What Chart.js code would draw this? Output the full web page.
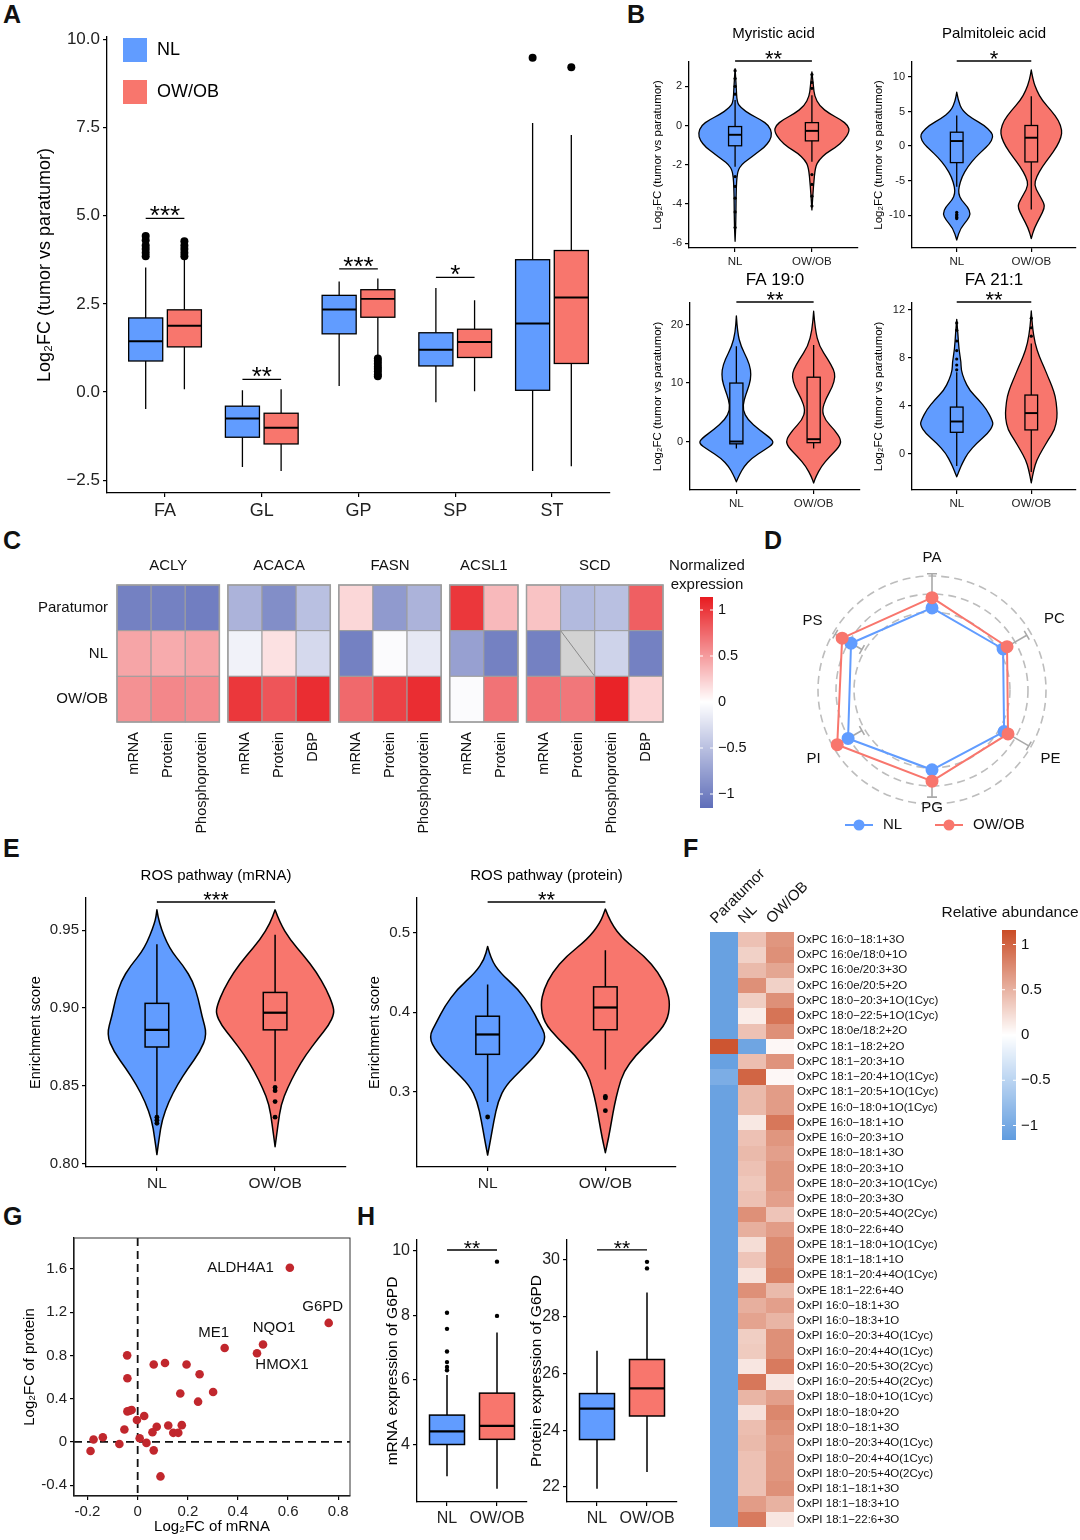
<!DOCTYPE html>
<html>
<head>
<meta charset="utf-8">
<title>Lipid metabolism figure</title>
<script src="https://cdn.jsdelivr.net/npm/chart.js@4.4.1/dist/chart.umd.min.js"></script>
<style>
  body { margin: 0; background: #fff; }
  #page { position: relative; width: 1080px; height: 1540px; overflow: hidden; background: #fff; }
  #page canvas { position: absolute; }
  .tag { position: absolute; font: bold 25px "Liberation Sans", Arial, sans-serif; line-height: 1; color: #111; }
</style>
</head>
<body>
<div id="page">
  <div class="tag" style="left:3px;top:2px">A</div>
  <div class="tag" style="left:627px;top:2px">B</div>
  <div class="tag" style="left:3px;top:528px">C</div>
  <div class="tag" style="left:764px;top:528px">D</div>
  <div class="tag" style="left:3px;top:836px">E</div>
  <div class="tag" style="left:683px;top:836px">F</div>
  <div class="tag" style="left:3px;top:1204px">G</div>
  <div class="tag" style="left:357px;top:1204px">H</div>
</div>
<script>
const FONT = '"Liberation Sans", Arial, Helvetica, sans-serif';
Chart.defaults.font.family = FONT;
Chart.defaults.color = '#222';
Chart.defaults.animation = false;
Chart.defaults.responsive = false;
Chart.defaults.plugins.legend.display = false;
Chart.defaults.plugins.tooltip.enabled = false;

const BLUE = '#619CFF';
const RED = '#F8766D';
const MINUS = '\u2212';

// ---------- A: lipid classes, log2FC tumor vs paratumor ----------
const classCats = ['FA', 'GL', 'GP', 'SP', 'ST'];
const classTicks = [-2.5, 0, 2.5, 5, 7.5, 10];
// [lower whisker, Q1, median, Q3, upper whisker]
const classNL = [[-0.48, 0.88, 1.44, 2.10, 3.53], [-2.12, -1.28, -0.75, -0.40, 0.05], [0.17, 1.65, 2.34, 2.74, 3.13], [-0.29, 0.74, 1.20, 1.68, 2.95], [-2.24, 0.05, 1.94, 3.75, 7.62]];
const classOW = [[0.08, 1.28, 1.88, 2.33, 3.78], [-2.24, -1.47, -1.01, -0.60, 0.08], [1.0, 2.12, 2.64, 2.90, 3.22], [0.02, 0.98, 1.42, 1.78, 2.60], [-2.10, 0.81, 2.68, 4.01, 7.28]];
const classOutNL = [[3.85, 3.95, 4.05, 4.15, 4.3, 4.42], [], [], [], [9.47]];
const classOutOW = [[3.85, 3.95, 4.05, 4.15, 4.27], [], [0.95, 0.88, 0.8, 0.72, 0.65, 0.58, 0.5, 0.45], [], [9.2]];
const classSig = ['***', '**', '***', '*'];
const classSigY = [4.92, 0.36, 3.49, 3.25];

// ---------- B: fatty acids (violin profiles: [value, relative half width]) ----------
const groups = ['NL', 'OW/OB'];

const myrTicks = [-6, -4, -2, 0, 2];
const myrViolinNL = [[2.9, 0], [2.0, 0.03], [1.2, 0.05], [0.9, 0.15], [0.55, 0.42], [0.3, 0.68], [0, 0.9], [-0.4, 0.98], [-0.75, 0.93], [-1.1, 0.78], [-1.4, 0.58], [-1.75, 0.33], [-2.0, 0.17], [-2.3, 0.07], [-3, 0.03], [-5, 0.02], [-5.9, 0]];
const myrViolinOW = [[2.74, 0], [2.0, 0.04], [1.5, 0.07], [1.0, 0.2], [0.6, 0.47], [0.3, 0.77], [0, 0.96], [-0.3, 1.0], [-0.75, 0.85], [-1.1, 0.64], [-1.4, 0.38], [-1.75, 0.19], [-2.1, 0.09], [-3.1, 0.04], [-4.3, 0]];
const myrBoxNL = [-2.1, -1.03, -0.47, -0.05, 1.3];
const myrBoxOW = [-1.85, -0.78, -0.27, 0.15, 1.55];
const myrOutNL = [2.8, 2.4, 2.0, 1.6, -2.6, -3.1, -3.7, -4.4, -5.2];
const myrOutOW = [2.6, 2.2, 1.9, -2.5, -3.0, -3.6, -4.1];

const palTicks = [-10, -5, 0, 5, 10];
const palViolinNL = [[7.8, 0], [6.6, 0.04], [5.1, 0.15], [3.9, 0.45], [3.0, 0.75], [2.0, 0.95], [1.3, 1.0], [0.3, 0.9], [-0.6, 0.72], [-1.6, 0.52], [-3.0, 0.3], [-4.5, 0.14], [-5.9, 0.06], [-6.9, 0.05], [-7.8, 0.12], [-8.8, 0.3], [-9.8, 0.38], [-10.7, 0.3], [-11.9, 0.1], [-13.6, 0]];
const palViolinOW = [[11.0, 0], [9.5, 0.05], [8.0, 0.15], [6.6, 0.3], [5.1, 0.55], [3.7, 0.75], [2.3, 0.84], [1.3, 0.82], [-0.1, 0.7], [-1.6, 0.5], [-3.0, 0.3], [-4.5, 0.14], [-5.7, 0.08], [-6.9, 0.2], [-8.3, 0.35], [-9.0, 0.36], [-10.2, 0.25], [-11.9, 0.08], [-13.4, 0]];
const palBoxNL = [-5.9, -2.4, 0.72, 2.0, 4.4];
const palBoxOW = [-9.2, -2.3, 1.2, 2.97, 7.2];
const palOutNL = [-9.6, -9.9, -10.1, -10.3, -10.5];
const palOutOW = [];

const fa19Ticks = [0, 10, 20];
const fa19ViolinNL = [[21.5, 0], [18.6, 0.03], [16.3, 0.12], [14, 0.3], [12.3, 0.38], [10.6, 0.38], [8.9, 0.3], [7.1, 0.2], [5.4, 0.17], [3.7, 0.3], [2.0, 0.6], [0.6, 0.9], [-0.3, 1.0], [-1.4, 0.75], [-2.9, 0.4], [-4.3, 0.2], [-5.7, 0.08], [-6.9, 0]];
const fa19ViolinOW = [[22.3, 0], [19.1, 0.04], [16.3, 0.15], [14, 0.38], [12.3, 0.53], [11.1, 0.57], [9.4, 0.5], [7.4, 0.33], [5.4, 0.22], [3.7, 0.3], [2.0, 0.55], [0.3, 0.73], [-0.9, 0.68], [-2.6, 0.42], [-4.3, 0.2], [-6.0, 0.06], [-7.1, 0]];
const fa19BoxNL = [-1.2, -0.4, 0, 10, 16.3];
const fa19BoxOW = [-1.2, -0.2, 0.4, 11.0, 16.5];

const fa21Ticks = [0, 4, 8, 12];
const fa21ViolinNL = [[11.2, 0], [10.1, 0.03], [8.7, 0.06], [7.6, 0.12], [7.0, 0.12], [6.2, 0.2], [5.3, 0.35], [4.5, 0.6], [3.7, 0.82], [2.8, 0.97], [2.4, 1.0], [1.7, 0.85], [0.9, 0.55], [0.06, 0.3], [-0.8, 0.15], [-1.3, 0.08], [-1.9, 0]];
const fa21ViolinOW = [[11.9, 0], [10.6, 0.03], [9.2, 0.1], [8.1, 0.22], [7.3, 0.34], [6.4, 0.46], [5.6, 0.57], [4.8, 0.66], [3.8, 0.7], [3.0, 0.71], [2.0, 0.64], [1.2, 0.47], [0.33, 0.3], [-0.5, 0.15], [-1.3, 0.07], [-2.4, 0]];
const fa21BoxNL = [-1.0, 1.8, 2.7, 3.9, 6.8];
const fa21BoxOW = [-1.5, 2.0, 3.4, 4.9, 9.2];
const fa21OutNL = [7.0, 7.4, 7.9, 8.6, 9.4, 10.3, 10.9];
const fa21OutOW = [9.8, 10.5, 11.3];

// ---------- C: lipogenic enzymes ----------
const enzymes = ['ACLY', 'ACACA', 'FASN', 'ACSL1', 'SCD'];
const enzymeCols = [['mRNA', 'Protein', 'Phosphoprotein'], ['mRNA', 'Protein', 'DBP'], ['mRNA', 'Protein', 'Phosphoprotein'], ['mRNA', 'Protein'], ['mRNA', 'Protein', 'Phosphoprotein', 'DBP']];
const enzymeRows = ['Paratumor', 'NL', 'OW/OB'];
const aclyExpr = [[-1.0, -1.0, -1.02], [0.45, 0.42, 0.45], [0.55, 0.6, 0.58]];
const acacaExpr = [[-0.6, -0.9, -0.5], [-0.1, 0.15, -0.3], [1.0, 0.85, 1.05]];
const fasnExpr = [[0.2, -0.8, -0.6], [-1.0, -0.03, -0.18], [0.75, 0.95, 1.05]];
const acsl1Expr = [[1.0, 0.35], [-0.75, -1.0], [-0.03, 0.7]];
const scdExpr = [[0.3, -0.55, -0.5, 0.8], [-1.0, null, -0.35, -1.0], [0.7, 0.68, 1.1, 0.22]];
const exprTicks = [1, 0.5, 0, -0.5, -1];

// ---------- D: lipid class radar ----------
const lipidClasses = ['PA', 'PC', 'PE', 'PG', 'PI', 'PS'];
const radarNL = [0.72, 0.72, 0.73, 0.70, 0.85, 0.82];
const radarOW = [0.81, 0.76, 0.77, 0.80, 0.96, 0.91];
const radarErrLo = [0.81, 0.76, 0.77, 0.80, 0.71, 0.71];
const radarErrHi = [1.02, 0.96, 0.98, 0.94, 0.96, 0.98];
const radarRings = [0.684, 0.842, 1.0];

// ---------- E: ROS pathway enrichment ----------
const rosMrnaTicks = [0.80, 0.85, 0.90, 0.95];
const rosMrnaViolinNL = [[0.963, 0], [0.955, 0.03], [0.938, 0.21], [0.927, 0.45], [0.917, 0.61], [0.906, 0.70], [0.895, 0.76], [0.883, 0.85], [0.872, 0.73], [0.861, 0.52], [0.851, 0.35], [0.840, 0.20], [0.828, 0.085], [0.817, 0.04], [0.806, 0]];
const rosMrnaViolinOW = [[0.963, 0], [0.9547, 0.08], [0.944, 0.25], [0.9335, 0.49], [0.923, 0.7], [0.912, 0.87], [0.9017, 0.98], [0.8964, 1], [0.889, 0.91], [0.8805, 0.73], [0.870, 0.52], [0.8593, 0.35], [0.8487, 0.21], [0.838, 0.1], [0.8254, 0.05], [0.811, 0]];
const rosMrnaBoxNL = [0.831, 0.875, 0.886, 0.903, 0.941];
const rosMrnaBoxOW = [0.853, 0.886, 0.897, 0.910, 0.947];
const rosMrnaOutNL = [0.830, 0.828, 0.826];
const rosMrnaOutOW = [0.849, 0.847, 0.840, 0.830];

const rosProtTicks = [0.3, 0.4, 0.5];
const rosProtViolinNL = [[0.483, 0], [0.467, 0.05], [0.45, 0.19], [0.429, 0.47], [0.408, 0.66], [0.3875, 0.79], [0.369, 0.91], [0.35, 0.79], [0.329, 0.54], [0.308, 0.28], [0.2875, 0.16], [0.2625, 0.095], [0.2417, 0.05], [0.22, 0]];
const rosProtViolinOW = [[0.53, 0], [0.5125, 0.08], [0.4917, 0.28], [0.471, 0.6], [0.45, 0.82], [0.429, 0.95], [0.41, 1], [0.3875, 0.95], [0.3667, 0.73], [0.346, 0.47], [0.325, 0.28], [0.304, 0.2], [0.283, 0.14], [0.2625, 0.095], [0.242, 0.05], [0.223, 0]];
const rosProtBoxNL = [0.287, 0.347, 0.372, 0.395, 0.435];
const rosProtBoxOW = [0.328, 0.378, 0.406, 0.432, 0.478];
const rosProtOutNL = [0.268];
const rosProtOutOW = [0.294, 0.292, 0.276];

// ---------- F: oxidized phospholipids ----------
const oxGroups = ['Paratumor', 'NL', 'OW/OB'];
const oxLipids = [
  'OxPC 16:0−18:1+3O', 'OxPC 16:0e/18:0+1O', 'OxPC 16:0e/20:3+3O', 'OxPC 16:0e/20:5+2O',
  'OxPC 18:0−20:3+1O(1Cyc)', 'OxPC 18:0−22:5+1O(1Cyc)', 'OxPC 18:0e/18:2+2O', 'OxPC 18:1−18:2+2O',
  'OxPC 18:1−20:3+1O', 'OxPC 18:1−20:4+1O(1Cyc)', 'OxPC 18:1−20:5+1O(1Cyc)', 'OxPE 16:0−18:0+1O(1Cyc)',
  'OxPE 16:0−18:1+1O', 'OxPE 16:0−20:3+1O', 'OxPE 18:0−18:1+3O', 'OxPE 18:0−20:3+1O',
  'OxPE 18:0−20:3+1O(1Cyc)', 'OxPE 18:0−20:3+3O', 'OxPE 18:0−20:5+4O(2Cyc)', 'OxPE 18:0−22:6+4O',
  'OxPE 18:1−18:0+1O(1Cyc)', 'OxPE 18:1−18:1+1O', 'OxPE 18:1−20:4+4O(1Cyc)', 'OxPE 18:1−22:6+4O',
  'OxPI 16:0−18:1+3O', 'OxPI 16:0−18:3+1O', 'OxPI 16:0−20:3+4O(1Cyc)', 'OxPI 16:0−20:4+4O(1Cyc)',
  'OxPI 16:0−20:5+3O(2Cyc)', 'OxPI 16:0−20:5+4O(2Cyc)', 'OxPI 18:0−18:0+1O(1Cyc)', 'OxPI 18:0−18:0+2O',
  'OxPI 18:0−18:1+3O', 'OxPI 18:0−20:3+4O(1Cyc)', 'OxPI 18:0−20:4+4O(1Cyc)', 'OxPI 18:0−20:5+4O(2Cyc)',
  'OxPI 18:1−18:1+3O', 'OxPI 18:1−18:3+1O', 'OxPI 18:1−22:6+3O'
];
const oxPara = [-1.1, -1.1, -1.1, -1.1, -1.1, -1.1, -1.1, 1.1, -1.1, -0.95, -1.08, -1.1, -1.1, -1.1, -1.1, -1.1, -1.1, -1.1, -1.1, -1.1, -1.1, -1.1, -1.1, -1.1, -1.1, -1.1, -1.1, -1.1, -1.1, -1.1, -1.1, -1.1, -1.1, -1.1, -1.1, -1.1, -1.1, -1.1, -1.1];
const oxNL = [0.4, 0.3, 0.45, 0.72, 0.32, 0.12, 0.4, -1.05, 0.42, 1.0, 0.45, 0.45, 0.15, 0.4, 0.45, 0.4, 0.36, 0.4, 0.72, 0.52, 0.22, 0.38, 0.18, 0.72, 0.52, 0.6, 0.32, 0.34, 0.16, 0.88, 0.48, 0.2, 0.42, 0.45, 0.4, 0.4, 0.4, 0.64, 0.86];
const oxOW = [0.68, 0.72, 0.58, 0.3, 0.72, 0.9, 0.72, 0.05, 0.7, 0.05, 0.64, 0.64, 0.88, 0.68, 0.62, 0.68, 0.68, 0.62, 0.38, 0.64, 0.76, 0.76, 0.82, 0.45, 0.62, 0.48, 0.72, 0.72, 0.86, 0.16, 0.62, 0.78, 0.72, 0.66, 0.68, 0.68, 0.72, 0.5, 0.16];
const oxTicks = [1, 0.5, 0, -0.5, -1];

// ---------- G: mRNA vs protein log2FC ----------
const fcPoints = [[0.607, 1.61], [0.762, 1.10], [0.347, 0.868], [0.50, 0.90], [0.476, 0.82],
  [-0.042, 0.80], [0.064, 0.716], [0.109, 0.729], [0.195, 0.716], [0.247, 0.626],
  [-0.041, 0.589], [0.301, 0.462], [0.170, 0.447], [0.241, 0.372], [-0.041, 0.282],
  [-0.024, 0.295], [-0.032, 0.288], [0.026, 0.239], [-0.003, 0.202], [-0.053, 0.115],
  [0.076, 0.140], [0.122, 0.152], [0.176, 0.155], [0.142, 0.084], [0.162, 0.084],
  [0.059, 0.09], [0.008, 0.034], [-0.139, 0.043], [-0.176, 0.022], [-0.073, -0.019],
  [0.035, -0.009], [-0.188, -0.084], [0.064, -0.078], [0.091, -0.319]];
const fcGenes = ['ALDH4A1', 'G6PD', 'ME1', 'NQO1', 'HMOX1'];
const fcXTicks = [-0.2, 0, 0.2, 0.4, 0.6, 0.8];
const fcYTicks = [-0.4, 0, 0.4, 0.8, 1.2, 1.6];

// ---------- H: G6PD expression ----------
const g6pdMrnaTicks = [4, 6, 8, 10];
const g6pdMrnaBoxNL = [3.02, 4.0, 4.41, 4.91, 6.15];
const g6pdMrnaBoxOW = [2.63, 4.16, 4.58, 5.59, 7.47];
const g6pdMrnaOutNL = [6.3, 6.4, 6.55, 6.88, 7.58, 8.08];
const g6pdMrnaOutOW = [7.98, 9.66];
const g6pdProtTicks = [22, 24, 26, 28, 30];
const g6pdProtBoxNL = [21.94, 23.67, 24.76, 25.29, 26.8];
const g6pdProtBoxOW = [22.53, 24.5, 25.47, 26.49, 28.85];
const g6pdProtOutNL = [];
const g6pdProtOutOW = [29.7, 29.93];

// ================= helpers =================
function addCanvas(b) {
  const c = document.createElement('canvas');
  c.width = b[2];
  c.height = b[3];
  c.style.left = b[0] + 'px';
  c.style.top = b[1] + 'px';
  c.style.width = b[2] + 'px';
  c.style.height = b[3] + 'px';
  document.getElementById('page').appendChild(c);
  return c;
}

// canvas box [x, y, w, h] and plot area [left, top, right, bottom] in page pixels
function frame(b, a) {
  return {
    padding: { left: 0, top: a[1] - b[1], right: b[0] + b[2] - a[2], bottom: 0 },
    yw: a[0] - b[0],
    xh: b[1] + b[3] - a[3]
  };
}

function axis(min, max, ticks, fmt, size, font, title) {
  return {
    type: 'linear', min, max, offset: false,
    afterBuildTicks: s => { s.ticks = ticks.map(v => ({ value: v })); },
    afterFit: s => { if (s.isHorizontal()) s.height = size; else s.width = size; },
    ticks: { callback: fmt, font: { size: font }, color: '#222', padding: 3, maxRotation: 0, minRotation: 0, autoSkip: false },
    grid: { drawOnChartArea: false, color: '#000', tickLength: 4, lineWidth: 1.2 },
    border: { color: '#000', width: 1.3 },
    title: title || { display: false }
  };
}

function axisTitle(text, size, pad) {
  return { display: true, text, color: '#000', font: { size }, padding: { top: pad, bottom: pad } };
}

function text(ctx, str, x, y, size, align, base, opt) {
  opt = opt || {};
  ctx.save();
  ctx.font = (opt.bold ? 'bold ' : '') + size + 'px ' + FONT;
  ctx.fillStyle = opt.color || '#000';
  ctx.textAlign = align;
  ctx.textBaseline = base;
  ctx.translate(x, y);
  if (opt.rot) ctx.rotate(opt.rot);
  ctx.fillText(str, 0, 0);
  ctx.restore();
}

function drawBox(ctx, xs, ys, cx, half, b, fill, lw) {
  const xl = xs.getPixelForValue(cx - half), xr = xs.getPixelForValue(cx + half), xc = xs.getPixelForValue(cx);
  const [lo, q1, md, q3, hi] = b.map(v => ys.getPixelForValue(v));
  ctx.save();
  ctx.strokeStyle = '#000';
  ctx.lineWidth = lw;
  ctx.beginPath();
  ctx.moveTo(xc, lo); ctx.lineTo(xc, q1);
  ctx.moveTo(xc, q3); ctx.lineTo(xc, hi);
  ctx.stroke();
  if (fill) { ctx.fillStyle = fill; ctx.fillRect(xl, q3, xr - xl, q1 - q3); }
  ctx.strokeRect(xl, q3, xr - xl, q1 - q3);
  ctx.lineWidth = lw * 1.5;
  ctx.beginPath(); ctx.moveTo(xl, md); ctx.lineTo(xr, md); ctx.stroke();
  ctx.restore();
}

function drawViolin(ctx, xs, ys, cx, prof, half, fill, lw) {
  const right = prof.map(p => [xs.getPixelForValue(cx + p[1] * half), ys.getPixelForValue(p[0])]);
  const left = prof.map(p => [xs.getPixelForValue(cx - p[1] * half), ys.getPixelForValue(p[0])]).reverse();
  const pts = right.concat(left);
  ctx.save();
  ctx.beginPath();
  ctx.moveTo(pts[0][0], pts[0][1]);
  for (let i = 1; i < pts.length - 1; i++) {
    ctx.quadraticCurveTo(pts[i][0], pts[i][1], (pts[i][0] + pts[i + 1][0]) / 2, (pts[i][1] + pts[i + 1][1]) / 2);
  }
  ctx.lineTo(pts[pts.length - 1][0], pts[pts.length - 1][1]);
  ctx.closePath();
  ctx.fillStyle = fill;
  ctx.fill();
  ctx.strokeStyle = '#000';
  ctx.lineWidth = lw;
  ctx.lineJoin = 'round';
  ctx.stroke();
  ctx.restore();
}

function drawSig(ctx, xs, y, x1, x2, label, size) {
  const a = xs.getPixelForValue(x1), b = xs.getPixelForValue(x2);
  ctx.save();
  ctx.strokeStyle = '#000';
  ctx.lineWidth = 1.3;
  ctx.beginPath(); ctx.moveTo(a, y); ctx.lineTo(b, y); ctx.stroke();
  ctx.restore();
  text(ctx, label, (a + b) / 2, y + size * 0.22, size, 'center', 'alphabetic');
}

function ramp(stops) {
  return v => {
    if (v <= stops[0][0]) return 'rgb(' + stops[0][1].join(',') + ')';
    for (let i = 1; i < stops.length; i++) {
      if (v <= stops[i][0]) {
        const t = (v - stops[i - 1][0]) / (stops[i][0] - stops[i - 1][0]);
        const c = stops[i - 1][1].map((u, k) => Math.round(u + (stops[i][1][k] - u) * t));
        return 'rgb(' + c.join(',') + ')';
      }
    }
    return 'rgb(' + stops[stops.length - 1][1].join(',') + ')';
  };
}

// vertical colour key: cb = {x, w, top, bottom, zero, unit} in canvas pixels
function colorKey(ctx, cb, color, ticks, size) {
  for (let y = cb.top; y < cb.bottom; y++) {
    ctx.fillStyle = color((cb.zero - y - 0.5) / cb.unit);
    ctx.fillRect(cb.x, y, cb.w, 1);
  }
  ticks.forEach(v => {
    const y = cb.zero - v * cb.unit;
    ctx.fillStyle = '#fff';
    ctx.fillRect(cb.x, y - 0.5, 3, 1);
    ctx.fillRect(cb.x + cb.w - 3, y - 0.5, 3, 1);
    text(ctx, String(v).replace('-', MINUS), cb.x + cb.w + 5, y, size, 'left', 'middle', { color: '#111' });
  });
}

// violin / box panel with two groups
function distPanel(b, a, p) {
  const f = frame(b, a);
  const pts = [];
  p.outliers.forEach((arr, g) => arr.forEach(v => pts.push({ x: g + 1, y: v })));
  new Chart(addCanvas(b), {
    type: 'scatter',
    data: { datasets: [{ data: pts, pointRadius: p.outR, pointBackgroundColor: '#000', pointBorderWidth: 0 }] },
    options: {
      layout: { padding: f.padding },
      scales: {
        x: axis(0.4, 2.6, [1, 2], v => groups[v - 1], f.xh, p.xFont),
        y: axis(p.yMin, p.yMax, p.ticks, p.fmt, f.yw, p.font,
          axisTitle(p.yTitle, p.yTitleSize, p.yTitleX - b[0] - p.yTitleSize * 0.6))
      }
    },
    plugins: [{
      id: 'dist',
      beforeDatasetsDraw(chart) {
        const { ctx, chartArea: ar, scales: { x, y } } = chart;
        [BLUE, RED].forEach((col, g) => {
          if (p.violins) drawViolin(ctx, x, y, g + 1, p.violins[g], p.half, col, p.lw);
          drawBox(ctx, x, y, g + 1, p.boxHalf, p.boxes[g], p.violins ? null : col, p.lw);
        });
        const sy = p.sigValue != null ? y.getPixelForValue(p.sigValue) : ar.top + p.sigGap;
        drawSig(ctx, x, sy, 1, 2, p.sig, p.sigSize);
        if (p.title) text(ctx, p.title, (ar.left + ar.right) / 2, ar.top - p.titleGap, p.titleSize, 'center', 'middle');
      }
    }]
  });
}

// ================= A =================
const aBox = [0, 0, 630, 530], aArea = [107, 37, 610, 493];
const fA = frame(aBox, aArea);
const DODGE = 0.2, A_HALF = 0.176;
const aOut = [];
classOutNL.forEach((arr, i) => arr.forEach(v => aOut.push({ x: i + 1 - DODGE, y: v })));
classOutOW.forEach((arr, i) => arr.forEach(v => aOut.push({ x: i + 1 + DODGE, y: v })));
new Chart(addCanvas(aBox), {
  type: 'scatter',
  data: { datasets: [{ data: aOut, pointRadius: 4, pointBackgroundColor: '#000', pointBorderWidth: 0 }] },
  options: {
    layout: { padding: fA.padding },
    scales: {
      x: axis(0.4, 5.6, [1, 2, 3, 4, 5], v => classCats[v - 1], fA.xh, 18),
      y: axis(-2.86, 10.06, classTicks, v => v.toFixed(1).replace('-', MINUS), fA.yw, 17,
        axisTitle('Log\u2082FC (tumor vs paratumor)', 18, 34))
    }
  },
  plugins: [{
    id: 'classBoxes',
    beforeDatasetsDraw(chart) {
      const { ctx, chartArea: ar, scales: { x, y } } = chart;
      classCats.forEach((c, i) => {
        drawBox(ctx, x, y, i + 1 - DODGE, A_HALF, classNL[i], BLUE, 1.3);
        drawBox(ctx, x, y, i + 1 + DODGE, A_HALF, classOW[i], RED, 1.3);
      });
      classSig.forEach((s, i) => drawSig(ctx, x, y.getPixelForValue(classSigY[i]), i + 1 - DODGE, i + 1 + DODGE, s, 26));
      // legend
      [[BLUE, 'NL'], [RED, 'OW/OB']].forEach(([col, lab], k) => {
        ctx.fillStyle = col;
        ctx.fillRect(ar.left + 16, ar.top + 1 + k * 42, 24, 24);
        text(ctx, lab, ar.left + 50, ar.top + 13 + k * 42, 18, 'left', 'middle');
      });
    }
  }]
});

// ================= B =================
const bFmt = v => String(v);
const bCommon = { font: 11, xFont: 11.5, yTitle: 'Log\u2082FC (tumor vs paratumor)', yTitleSize: 11.5,
  half: 0.49, boxHalf: 0.085, lw: 1.3, outR: 1.6, sigGap: -1, sigSize: 22, titleGap: 28, titleSize: 15 };
distPanel([637, 18, 225, 258], [689, 62, 860, 248], Object.assign({}, bCommon, {
  title: 'Myristic acid', sig: '**', ticks: myrTicks, yMin: -6.24, yMax: 3.24, fmt: bFmt, yTitleX: 658,
  violins: [myrViolinNL, myrViolinOW], boxes: [myrBoxNL, myrBoxOW], outliers: [myrOutNL, myrOutOW]
}));
distPanel([860, 18, 220, 258], [912, 62, 1078, 248], Object.assign({}, bCommon, {
  title: 'Palmitoleic acid', sig: '*', ticks: palTicks, yMin: -14.76, yMax: 12.16, fmt: bFmt, yTitleX: 879,
  violins: [palViolinNL, palViolinOW], boxes: [palBoxNL, palBoxOW], outliers: [palOutNL, palOutOW]
}));
distPanel([638, 262, 224, 256], [690, 303, 860, 490], Object.assign({}, bCommon, {
  title: 'FA 19:0', sig: '**', ticks: fa19Ticks, yMin: -8.3, yMax: 23.7, fmt: bFmt, yTitleX: 658, titleGap: 23, titleSize: 17,
  violins: [fa19ViolinNL, fa19ViolinOW], boxes: [fa19BoxNL, fa19BoxOW], outliers: [[], []]
}));
distPanel([860, 262, 220, 256], [912, 303, 1078, 490], Object.assign({}, bCommon, {
  title: 'FA 21:1', sig: '**', ticks: fa21Ticks, yMin: -3.0, yMax: 12.56, fmt: bFmt, yTitleX: 879, titleGap: 23, titleSize: 17,
  violins: [fa21ViolinNL, fa21ViolinOW], boxes: [fa21BoxNL, fa21BoxOW], outliers: [fa21OutNL, fa21OutOW]
}));

// ================= C =================
const cBox = [0, 545, 770, 295], cArea = [117, 585, 663, 722];
const exprBlocks = [aclyExpr, acacaExpr, fasnExpr, acsl1Expr, scdExpr];
const BLOCK_GAP = 0.25;
const blockStart = [];
let exprWidth = 0;
enzymeCols.forEach(cols => { blockStart.push(exprWidth); exprWidth += cols.length + BLOCK_GAP; });
exprWidth -= BLOCK_GAP;
const exprColor = ramp([[-1.15, [95, 110, 185]], [0, [255, 255, 255]], [1.15, [232, 25, 30]]]);
new Chart(addCanvas(cBox), {
  type: 'scatter',
  data: { datasets: [] },
  options: {
    layout: { padding: { left: cArea[0] - cBox[0], top: cArea[1] - cBox[1], right: cBox[0] + cBox[2] - cArea[2], bottom: cBox[1] + cBox[3] - cArea[3] } },
    scales: {
      x: { type: 'linear', display: false, min: 0, max: exprWidth },
      y: { type: 'linear', display: false, min: 0, max: 3, reverse: true }
    }
  },
  plugins: [{
    id: 'exprHeat',
    afterDraw(chart) {
      const { ctx, chartArea: ar, scales: { x, y } } = chart;
      ctx.save();
      exprBlocks.forEach((block, k) => {
        const x0 = blockStart[k];
        block.forEach((row, r) => row.forEach((v, j) => {
          const l = x.getPixelForValue(x0 + j), rr = x.getPixelForValue(x0 + j + 1);
          const t = y.getPixelForValue(r), bt = y.getPixelForValue(r + 1);
          ctx.fillStyle = v == null ? '#D2D2D2' : exprColor(v);
          ctx.fillRect(l, t, rr - l, bt - t);
          ctx.strokeStyle = '#9E9E9E';
          ctx.lineWidth = 1;
          ctx.strokeRect(l, t, rr - l, bt - t);
          if (v == null) {
            ctx.beginPath(); ctx.moveTo(l, t); ctx.lineTo(rr, bt); ctx.strokeStyle = '#8A8A8A'; ctx.stroke();
          }
        }));
        const bl = x.getPixelForValue(x0), br = x.getPixelForValue(x0 + enzymeCols[k].length);
        ctx.strokeStyle = '#9E9E9E';
        ctx.lineWidth = 1.5;
        ctx.strokeRect(bl, ar.top, br - bl, ar.bottom - ar.top);
        text(ctx, enzymes[k], (bl + br) / 2, ar.top - 19, 15, 'center', 'middle', { color: '#111' });
        enzymeCols[k].forEach((lab, j) => {
          text(ctx, lab, x.getPixelForValue(x0 + j + 0.5), ar.bottom + 10, 14.5, 'right', 'middle', { rot: -Math.PI / 2, color: '#111' });
        });
      });
      enzymeRows.forEach((lab, r) => text(ctx, lab, ar.left - 9, y.getPixelForValue(r + 0.5), 15, 'right', 'middle', { color: '#111' }));
      ctx.restore();
      const ox = cBox[0], oy = cBox[1];
      colorKey(ctx, { x: 700 - ox, w: 13, top: 597 - oy, bottom: 808 - oy, zero: 702 - oy, unit: 92 }, exprColor, exprTicks, 14.5);
      text(ctx, 'Normalized', 707 - ox, 566 - oy, 15, 'center', 'middle', { color: '#111' });
      text(ctx, 'expression', 707 - ox, 585 - oy, 15, 'center', 'middle', { color: '#111' });
    }
  }]
});

// ================= D =================
const dBox = [782, 545, 298, 295], dArea = [818, 576, 1046, 804];
const labelReach = [1.16, 1.24, 1.2, 1.035, 1.2, 1.21];
new Chart(addCanvas(dBox), {
  type: 'radar',
  data: {
    labels: lipidClasses,
    datasets: [
      { label: 'NL', data: radarNL, order: 1, borderColor: BLUE, backgroundColor: 'rgba(0,0,0,0)', borderWidth: 2, pointRadius: 5.5, pointBackgroundColor: BLUE, pointBorderColor: BLUE },
      { label: 'OW/OB', data: radarOW, order: 0, borderColor: RED, backgroundColor: 'rgba(0,0,0,0)', borderWidth: 2, pointRadius: 5.5, pointBackgroundColor: RED, pointBorderColor: RED }
    ]
  },
  options: {
    layout: { padding: { left: dArea[0] - dBox[0], top: dArea[1] - dBox[1], right: dBox[0] + dBox[2] - dArea[2], bottom: dBox[1] + dBox[3] - dArea[3] } },
    scales: {
      r: {
        min: 0, max: 1,
        afterBuildTicks: s => { s.ticks = [0].concat(radarRings).map(v => ({ value: v })); },
        ticks: { display: false },
        pointLabels: { display: false },
        angleLines: { display: false },
        grid: { circular: true, color: '#BDBDBD', lineWidth: 1.6 },
        border: { dash: [8, 5] }
      }
    }
  },
  plugins: [{
    id: 'radarDecor',
    beforeDatasetsDraw(chart) {
      const { ctx } = chart;
      const r = chart.scales.r;
      ctx.save();
      ctx.strokeStyle = '#A9A9A9';
      ctx.lineWidth = 1.6;
      lipidClasses.forEach((c, i) => {
        const p0 = r.getPointPositionForValue(i, radarErrLo[i]);
        const p1 = r.getPointPositionForValue(i, radarErrHi[i]);
        const nx = -Math.sin(p1.angle) * 5, ny = Math.cos(p1.angle) * 5;
        ctx.beginPath();
        ctx.moveTo(p0.x, p0.y); ctx.lineTo(p1.x, p1.y);
        ctx.moveTo(p1.x - nx, p1.y - ny); ctx.lineTo(p1.x + nx, p1.y + ny);
        ctx.moveTo(p0.x - nx, p0.y - ny); ctx.lineTo(p0.x + nx, p0.y + ny);
        ctx.stroke();
      });
      ctx.restore();
    },
    afterDraw(chart) {
      const { ctx } = chart;
      const r = chart.scales.r;
      lipidClasses.forEach((c, i) => {
        const p = r.getPointPositionForValue(i, labelReach[i]);
        text(ctx, c, p.x, p.y, 15, 'center', 'middle', { color: '#111' });
      });
      const ly = 825 - dBox[1];
      [[BLUE, 'NL', 845], [RED, 'OW/OB', 935]].forEach(([col, lab, lx]) => {
        const x0 = lx - dBox[0];
        ctx.save();
        ctx.strokeStyle = col; ctx.lineWidth = 2;
        ctx.beginPath(); ctx.moveTo(x0, ly); ctx.lineTo(x0 + 28, ly); ctx.stroke();
        ctx.fillStyle = col;
        ctx.beginPath(); ctx.arc(x0 + 14, ly, 5.5, 0, Math.PI * 2); ctx.fill();
        ctx.restore();
        text(ctx, lab, x0 + 38, ly, 15, 'left', 'middle', { color: '#111' });
      });
    }
  }]
});

// ================= E =================
const eCommon = { font: 15, xFont: 15.5, yTitle: 'Enrichment score', yTitleSize: 14.5, boxHalf: 0.1, lw: 1.5,
  outR: 2.4, sigGap: 4, sigSize: 22, titleGap: 22, titleSize: 15 };
distPanel([0, 855, 350, 340], [86, 898, 346, 1167], Object.assign({}, eCommon, {
  title: 'ROS pathway (mRNA)', sig: '***', ticks: rosMrnaTicks, yMin: 0.798, yMax: 0.9706, fmt: v => v.toFixed(2),
  yTitleX: 36, half: 0.5,
  violins: [rosMrnaViolinNL, rosMrnaViolinOW], boxes: [rosMrnaBoxNL, rosMrnaBoxOW], outliers: [rosMrnaOutNL, rosMrnaOutOW]
}));
distPanel([340, 855, 340, 340], [417, 898, 676, 1167], Object.assign({}, eCommon, {
  title: 'ROS pathway (protein)', sig: '**', ticks: rosProtTicks, yMin: 0.205, yMax: 0.544, fmt: v => v.toFixed(1),
  yTitleX: 375, half: 0.55,
  violins: [rosProtViolinNL, rosProtViolinOW], boxes: [rosProtBoxNL, rosProtBoxOW], outliers: [rosProtOutNL, rosProtOutOW]
}));

// ================= F =================
const fBox = [690, 850, 390, 690], fArea = [710, 932, 794, 1527];
const oxColor = ramp([[-1.2, [90, 152, 222]], [0, [255, 255, 255]], [1.2, [200, 70, 30]]]);
new Chart(addCanvas(fBox), {
  type: 'scatter',
  data: { datasets: [] },
  options: {
    layout: { padding: { left: fArea[0] - fBox[0], top: fArea[1] - fBox[1], right: fBox[0] + fBox[2] - fArea[2], bottom: fBox[1] + fBox[3] - fArea[3] } },
    scales: {
      x: { type: 'linear', display: false, min: 0, max: 3 },
      y: { type: 'linear', display: false, min: 0, max: oxLipids.length, reverse: true }
    }
  },
  plugins: [{
    id: 'oxHeat',
    afterDraw(chart) {
      const { ctx, chartArea: ar, scales: { x, y } } = chart;
      [oxPara, oxNL, oxOW].forEach((vals, c) => vals.forEach((v, r) => {
        const l = Math.round(x.getPixelForValue(c)), rr = Math.round(x.getPixelForValue(c + 1));
        const t = Math.round(y.getPixelForValue(r)), bt = Math.round(y.getPixelForValue(r + 1));
        ctx.fillStyle = oxColor(v);
        ctx.fillRect(l, t, rr - l, bt - t);
      }));
      oxLipids.forEach((name, r) => text(ctx, name, ar.right + 3, y.getPixelForValue(r + 0.5), 11.5, 'left', 'middle', { color: '#111' }));
      oxGroups.forEach((g, c) => text(ctx, g, x.getPixelForValue(c + 0.5) - 8, ar.top - 8, 15, 'left', 'alphabetic', { rot: -Math.PI / 4, color: '#111' }));
      const ox = fBox[0], oy = fBox[1];
      colorKey(ctx, { x: 1002 - ox, w: 14, top: 930 - oy, bottom: 1140 - oy, zero: 1035 - oy, unit: 90.5 }, oxColor, oxTicks, 15);
      text(ctx, 'Relative abundance', 1010 - ox, 913 - oy, 15.5, 'center', 'middle', { color: '#111' });
    }
  }]
});

// ================= G =================
const gBox = [0, 1215, 360, 325], gArea = [74, 1238, 350, 1496];
const fG = frame(gBox, gArea);
const gFmt = v => (v === 0 ? '0' : v.toFixed(1));
const labelSpots = [[-16, 0, 'right'], [-6, -16, 'center'], [-11, -15, 'center'], [11, -17, 'center'], [25, 12, 'center']];
const gAxisX = axis(-0.254, 0.847, fcXTicks, gFmt, fG.xh, 15, axisTitle('Log\u2082FC of mRNA', 15, 4));
const gAxisY = axis(-0.5, 1.885, fcYTicks, gFmt, fG.yw, 15, axisTitle('Log\u2082FC of protein', 15, 21));
new Chart(addCanvas(gBox), {
  type: 'scatter',
  data: { datasets: [{ data: fcPoints.map(p => ({ x: p[0], y: p[1] })), pointRadius: 4.3, pointBackgroundColor: '#C1272D', pointBorderWidth: 0 }] },
  options: { layout: { padding: Object.assign({}, fG.padding, { right: 10 }) }, scales: { x: gAxisX, y: gAxisY } },
  plugins: [{
    id: 'fcDecor',
    beforeDatasetsDraw(chart) {
      const { ctx, chartArea: ar, scales: { x, y } } = chart;
      ctx.save();
      ctx.strokeStyle = '#111';
      ctx.lineWidth = 1.8;
      ctx.setLineDash([8, 5]);
      ctx.beginPath();
      ctx.moveTo(x.getPixelForValue(0), ar.top); ctx.lineTo(x.getPixelForValue(0), ar.bottom);
      ctx.moveTo(ar.left, y.getPixelForValue(0)); ctx.lineTo(ar.right, y.getPixelForValue(0));
      ctx.stroke();
      ctx.setLineDash([]);
      ctx.strokeStyle = '#333';
      ctx.lineWidth = 1;
      ctx.strokeRect(ar.left, ar.top, ar.right - ar.left, ar.bottom - ar.top);
      ctx.restore();
    },
    afterDraw(chart) {
      const { ctx, scales: { x, y } } = chart;
      fcGenes.forEach((g, i) => {
        const px = x.getPixelForValue(fcPoints[i][0]), py = y.getPixelForValue(fcPoints[i][1]);
        text(ctx, g, px + labelSpots[i][0], py + labelSpots[i][1], 15, labelSpots[i][2], 'middle', { color: '#111' });
      });
    }
  }]
});

// ================= H =================
const hCommon = { font: 16, xFont: 16, yTitleSize: 15.5, boxHalf: 0.35, lw: 1.5, outR: 2.2, sigSize: 21 };
distPanel([365, 1225, 168, 315], [417, 1240, 527, 1502], Object.assign({}, hCommon, {
  sig: '**', sigValue: 10.02, ticks: g6pdMrnaTicks, yMin: 2.22, yMax: 10.33, fmt: v => String(v),
  yTitle: 'mRNA expression of G6PD', yTitleX: 393,
  boxes: [g6pdMrnaBoxNL, g6pdMrnaBoxOW], outliers: [g6pdMrnaOutNL, g6pdMrnaOutOW]
}));
distPanel([515, 1225, 167, 315], [567, 1240, 677, 1502], Object.assign({}, hCommon, {
  sig: '**', sigValue: 30.35, ticks: g6pdProtTicks, yMin: 21.47, yMax: 30.7, fmt: v => String(v),
  yTitle: 'Protein expression of G6PD', yTitleX: 537,
  boxes: [g6pdProtBoxNL, g6pdProtBoxOW], outliers: [g6pdProtOutNL, g6pdProtOutOW]
}));
</script>
</body>
</html>
